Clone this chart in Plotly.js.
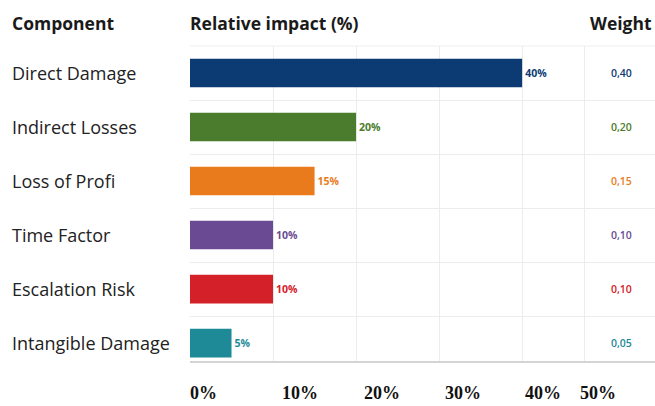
<!DOCTYPE html>
<html>
<head>
<meta charset="utf-8">
<script src="https://cdn.plot.ly/plotly-3.0.1.min.js"></script>
<style>html,body{margin:0;padding:0;background:#fff;}#chart{width:655px;height:406px;}</style>
</head>
<body>
<div id="chart"></div>
<script>
// ---- data ----
const categories = ["Direct Damage", "Indirect Losses", "Loss of Profi", "Time Factor", "Escalation Risk", "Intangible Damage"];
const impactPct = [40, 20, 15, 10, 10, 5];
const weights = ["0,40", "0,20", "0,15", "0,10", "0,10", "0,05"];
const barColors = ["#0c3a72", "#4b7b2c", "#e97b1d", "#6a4b93", "#d42028", "#1e8a97"];
const axisTickLabels = ["0%", "10%", "20%", "30%", "40%", "50%"];
const headers = ["Component", "Relative impact (%)", "Weight"];

// ---- layout constants (pixels) ----
const W = 655, H = 406, ML = 190, MR = 0, MT = 46, MB = 44;
const PW = W - ML - MR;
const px = x => (x - ML) / PW;           // pixel x -> paper x
const py = y => (H - MB - y) / (H - MT - MB); // pixel y -> paper y
const tickLeft = [188, 280, 362, 443, 523, 578];

const trace = {
  type: "bar",
  orientation: "h",
  y: categories,
  x: impactPct,
  marker: { color: barColors },
  width: 0.53,
  text: impactPct.map(v => v + "%"),
  textposition: "outside",
  cliponaxis: false,
  textfont: { family: "Open Sans, sans-serif", size: 10.5, color: barColors, weight: 700 },
  hoverinfo: "skip"
};

const annotations = [];
// category labels
categories.forEach((c, i) => annotations.push({
  xref: "paper", yref: "y", x: px(10), y: c, xanchor: "left", yanchor: "middle",
  text: c, showarrow: false, font: { family: "Open Sans, sans-serif", size: 18, color: "#222" }
}));
// weight column
categories.forEach((c, i) => annotations.push({
  xref: "paper", yref: "y", x: px(621), y: c, xanchor: "center", yanchor: "middle",
  text: weights[i], showarrow: false, font: { family: "Open Sans, sans-serif", size: 10.5, color: barColors[i], weight: 600 }
}));
// headers
const headerX = [10, 188, 588];
headers.forEach((h, i) => annotations.push({
  xref: "paper", yref: "paper", x: px(headerX[i]), y: py(23), xanchor: "left", yanchor: "middle",
  text: "<b>" + h + "</b>", showarrow: false, font: { family: "Open Sans, sans-serif", size: 17.5, color: "#1a1a1a" }
}));
// bottom axis labels
axisTickLabels.forEach((t, i) => annotations.push({
  xref: "paper", yref: "paper", x: px(tickLeft[i]), y: py(393), xanchor: "left", yanchor: "middle",
  text: "<b>" + t + "</b>", showarrow: false, font: { family: "Liberation Serif, Times New Roman, serif", size: 18, color: "#111" }
}));

const layout = {
  width: W, height: H,
  margin: { l: ML, r: MR, t: MT, b: MB, pad: 0 },
  paper_bgcolor: "#fff", plot_bgcolor: "#fff",
  showlegend: false,
  xaxis: {
    range: [0, 56], tickvals: [0, 10, 20, 30, 40, 47.5], showticklabels: false,
    showgrid: true, gridcolor: "#ececec", gridwidth: 1, zeroline: false,
    showline: false, fixedrange: true
  },
  yaxis: {
    type: "category", range: [5.35, -0.5], autorange: false, tickson: "boundaries",
    showticklabels: false, showgrid: true, gridcolor: "#ececec", gridwidth: 1,
    showline: false, zeroline: false, ticks: "", fixedrange: true
  },
  shapes: [
    { type: "line", xref: "paper", yref: "paper", x0: 0, x1: 1, y0: 0, y1: 0, line: { color: "#d4d4d4", width: 2 } },
    { type: "line", xref: "paper", yref: "paper", x0: 0, x1: 1, y0: 1, y1: 1, line: { color: "#eeeeee", width: 1 } }
  ],
  annotations: annotations
};

Plotly.newPlot("chart", [trace], layout, { displayModeBar: false, staticPlot: true });
</script>
</body>
</html>
